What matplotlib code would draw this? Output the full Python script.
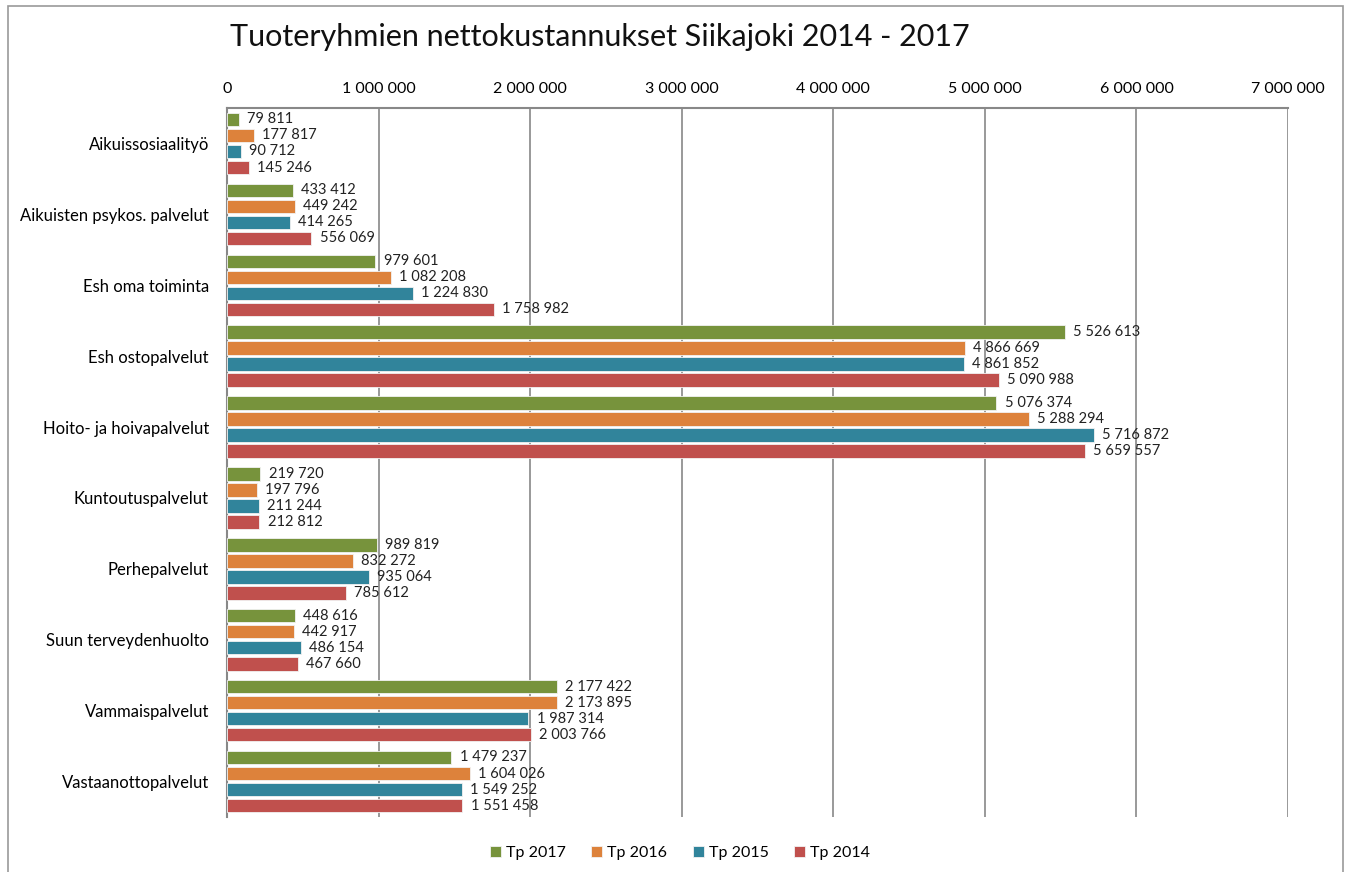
import matplotlib.pyplot as plt
from matplotlib.patches import Rectangle
import numpy as np

plt.rcParams['font.family'] = ['Lato', 'DejaVu Sans']

categories = ["Aikuissosiaalityö", "Aikuisten psykos. palvelut", "Esh oma toiminta",
              "Esh ostopalvelut", "Hoito- ja hoivapalvelut", "Kuntoutuspalvelut",
              "Perhepalvelut", "Suun terveydenhuolto", "Vammaispalvelut",
              "Vastaanottopalvelut"]
tp2017 = [79811, 433412, 979601, 5526613, 5076374, 219720, 989819, 448616, 2177422, 1479237]
tp2016 = [177817, 449242, 1082208, 4866669, 5288294, 197796, 832272, 442917, 2173895, 1604026]
tp2015 = [90712, 414265, 1224830, 4861852, 5716872, 211244, 935064, 486154, 1987314, 1549252]
tp2014 = [145246, 556069, 1758982, 5090988, 5659557, 212812, 785612, 467660, 2003766, 1551458]
series_names = ["Tp 2017", "Tp 2016", "Tp 2015", "Tp 2014"]
colors = ["#77933C", "#DD823B", "#31849B", "#C0504D"]
xticks = [0, 1000000, 2000000, 3000000, 4000000, 5000000, 6000000, 7000000]


def fmt(v):
    return f"{v:,}".replace(",", " ")


fig = plt.figure(figsize=(13.52, 8.72), dpi=100)
ax = fig.add_axes([0.1679, 0.0631, 0.7848, 0.813])

y = np.arange(len(categories))
pitch = 0.226
h = 0.19
for i, (vals, name, c) in enumerate(zip([tp2017, tp2016, tp2015, tp2014], series_names, colors)):
    pos = y + (i - 1.5) * pitch
    ax.barh(pos, vals, height=h, color=c, edgecolor="#f2f2f2", linewidth=0.6, label=name, zorder=3)
    for p, v in zip(pos, vals):
        ax.text(v + 55000, p, fmt(v), va="center", ha="left", fontsize=10.5, color="#222222", zorder=4)

ax.set_xlim(0, 7000000)
ax.set_ylim(len(categories) - 0.5, -0.5)
ax.set_yticks(y)
ax.set_yticklabels(categories, fontsize=12)
ax.tick_params(axis="y", length=0, pad=13)
ax.xaxis.tick_top()
ax.set_xticks(xticks)
ax.set_xticklabels([fmt(t) for t in xticks], fontsize=11.5)
ax.tick_params(axis="x", length=0, pad=9)
ax.grid(axis="x", color="#888888", linewidth=1.2, zorder=0)
for s in ["right", "bottom"]:
    ax.spines[s].set_visible(False)
ax.spines["left"].set_color("#888888")
ax.spines["left"].set_linewidth(1.5)
ax.spines["top"].set_color("#888888")
ax.spines["top"].set_linewidth(1.5)

fig.text(0.17, 0.957, "Tuoteryhmien nettokustannukset Siikajoki 2014 - 2017", fontsize=22,
         ha="left", va="center", color="#111111")

leg = fig.legend(loc="center", bbox_to_anchor=(0.503, 0.022), ncol=4, frameon=False,
                 fontsize=11.5, handlelength=0.7, handleheight=0.7, handletextpad=0.3,
                 columnspacing=1.6)

fig.patches.append(Rectangle((0.006, -0.01), 0.987, 1.003, transform=fig.transFigure,
                             fill=False, edgecolor="#999999", linewidth=1.2))

fig.savefig("out.png", dpi=100)
